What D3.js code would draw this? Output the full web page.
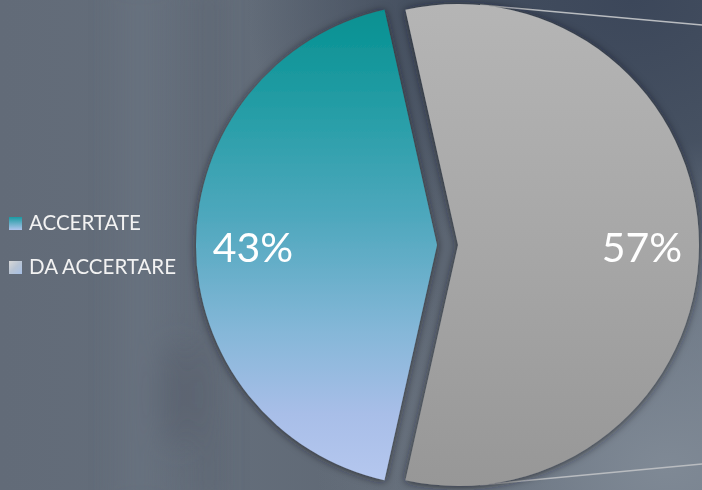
<!DOCTYPE html>
<html>
<head>
<meta charset="utf-8">
<script src="https://cdn.jsdelivr.net/npm/d3@7"></script>
<style>
html,body{margin:0;padding:0;background:#636c78;}
svg{display:block;}
</style>
</head>
<body>
<script>
const categories = ["ACCERTATE", "DA ACCERTARE"];
const values = [43, 57];
const valueLabels = ["43%", "57%"];

const W = 702, H = 490;
const cx = 447.5, cy = 245, R = 241, explode = 10.5;

const svg = d3.select("body").append("svg").attr("width", W).attr("height", H);
const defs = svg.append("defs");

// background gradients
const bg = defs.append("linearGradient").attr("id", "bgBase").attr("x1", 0).attr("y1", 0).attr("x2", 1).attr("y2", 0);
[[0, "#626b78"], [0.3, "#646e7b"], [0.55, "#5f6874"], [0.75, "#5a6472"], [1, "#6a7583"]].forEach(s => bg.append("stop").attr("offset", s[0]).attr("stop-color", s[1]));

const dark = defs.append("radialGradient").attr("id", "bgDark").attr("cx", 0.9).attr("cy", 0.0).attr("r", 0.55);
dark.append("stop").attr("offset", 0).attr("stop-color", "#3c475a").attr("stop-opacity", 1);
dark.append("stop").attr("offset", 0.55).attr("stop-color", "#404b5c").attr("stop-opacity", 0.85);
dark.append("stop").attr("offset", 1).attr("stop-color", "#404b5c").attr("stop-opacity", 0);

const light = defs.append("radialGradient").attr("id", "bgLight").attr("cx", 0.95).attr("cy", 0.95).attr("r", 0.5);
light.append("stop").attr("offset", 0).attr("stop-color", "#7f8995").attr("stop-opacity", 1);
light.append("stop").attr("offset", 1).attr("stop-color", "#7f8995").attr("stop-opacity", 0);

const blur = defs.append("filter").attr("id", "blurBand").attr("x", "-50%").attr("y", "-50%").attr("width", "200%").attr("height", "200%");
blur.append("feGaussianBlur").attr("stdDeviation", 14);

const shadow = defs.append("filter").attr("id", "shadow").attr("x", "-20%").attr("y", "-20%").attr("width", "140%").attr("height", "140%");
shadow.append("feDropShadow").attr("dx", 0).attr("dy", 1).attr("stdDeviation", 4).attr("flood-color", "#1a1d22").attr("flood-opacity", 0.75);

svg.append("rect").attr("width", W).attr("height", H).attr("fill", "url(#bgBase)");
svg.append("rect").attr("width", W).attr("height", H).attr("fill", "url(#bgLight)");
svg.append("rect").attr("width", W).attr("height", H).attr("fill", "url(#bgDark)");

// soft vertical streaks like the photo background
const bands = svg.append("g").attr("filter", "url(#blurBand)");
bands.append("rect").attr("x", 120).attr("y", -20).attr("width", 40).attr("height", 530).attr("fill", "#6c7684").attr("opacity", 0.5);
bands.append("rect").attr("x", 200).attr("y", -20).attr("width", 18).attr("height", 530).attr("fill", "#555d69").attr("opacity", 0.5);
bands.append("ellipse").attr("cx", 178).attr("cy", 395).attr("rx", 22).attr("ry", 55).attr("fill", "#4d5460").attr("opacity", 0.35);

// slice gradients
const gTeal = defs.append("linearGradient").attr("id", "grad0").attr("gradientUnits", "userSpaceOnUse")
  .attr("x1", 0).attr("y1", 4).attr("x2", 0).attr("y2", 486);
[[0, "#049090"], [0.25, "#2a9fa9"], [0.45, "#50a8be"], [0.68, "#85b7d8"], [0.85, "#a8bee8"], [1, "#b6c8ef"]].forEach(s => gTeal.append("stop").attr("offset", s[0]).attr("stop-color", s[1]));
const gGray = defs.append("linearGradient").attr("id", "grad1").attr("gradientUnits", "userSpaceOnUse")
  .attr("x1", 0).attr("y1", 4).attr("x2", 0).attr("y2", 486);
[[0, "#b5b5b5"], [0.5, "#a7a7a7"], [1, "#979797"]].forEach(s => gGray.append("stop").attr("offset", s[0]).attr("stop-color", s[1]));

// legend gradients
const l0 = defs.append("linearGradient").attr("id", "leg0").attr("x1", 0).attr("y1", 0).attr("x2", 0).attr("y2", 1);
l0.append("stop").attr("offset", 0).attr("stop-color", "#1a9aa2");
l0.append("stop").attr("offset", 1).attr("stop-color", "#b0c4ec");
const l1 = defs.append("linearGradient").attr("id", "leg1").attr("x1", 0).attr("y1", 0).attr("x2", 1).attr("y2", 1);
l1.append("stop").attr("offset", 0).attr("stop-color", "#d8d8d8");
l1.append("stop").attr("offset", 0.5).attr("stop-color", "#b8c4d4");
l1.append("stop").attr("offset", 1).attr("stop-color", "#a6c0e6");

// decorative thin lines
svg.append("line").attr("x1", 480).attr("y1", 5).attr("x2", 702).attr("y2", 25).attr("stroke", "#b9bcc0").attr("stroke-width", 1.5);
svg.append("line").attr("x1", 480).attr("y1", 485).attr("x2", 702).attr("y2", 464).attr("stroke", "#b9bcc0").attr("stroke-width", 1.5);

// pie
const a0 = (270 - (values[0] / d3.sum(values)) * 180) * Math.PI / 180;
const pie = d3.pie().sort(null).startAngle(a0).endAngle(a0 + 2 * Math.PI);
const arcs = pie(values);
const arc = d3.arc().innerRadius(0).outerRadius(R);

const pg = svg.append("g").attr("transform", `translate(${cx},${cy})`);
arcs.forEach((d, i) => {
  const mid = (d.startAngle + d.endAngle) / 2;
  const ox = Math.sin(mid) * explode, oy = -Math.cos(mid) * explode;
  pg.append("path")
    .attr("d", arc(d))
    .attr("transform", `translate(${ox},${oy})`)
    .attr("fill", `url(#grad${i})`)
    .attr("filter", "url(#shadow)");
});
gTeal.attr("gradientTransform", `translate(0,${-cy})`);
gGray.attr("gradientTransform", `translate(0,${-cy})`);

const labelR = 184;
arcs.forEach((d, i) => {
  const mid = (d.startAngle + d.endAngle) / 2;
  const rr = labelR + explode;
  pg.append("text")
    .attr("x", Math.sin(mid) * rr)
    .attr("y", -Math.cos(mid) * rr + 17)
    .attr("text-anchor", "middle")
    .attr("font-family", "Lato, 'Open Sans', sans-serif")
    .attr("font-size", 41)
    .attr("fill", "#ffffff")
    .text(valueLabels[i]);
});

// legend
const lg = svg.append("g");
categories.forEach((c, i) => {
  const y = 217 + i * 44;
  lg.append("rect").attr("x", 9).attr("y", y).attr("width", 13).attr("height", 13).attr("fill", `url(#leg${i})`);
  lg.append("text").attr("x", 29).attr("y", y + 13)
    .attr("font-family", "Lato, 'Open Sans', sans-serif")
    .attr("font-size", 20.5)
    .attr("fill", "#f2f2f2")
    .text(c);
});
</script>
</body>
</html>
